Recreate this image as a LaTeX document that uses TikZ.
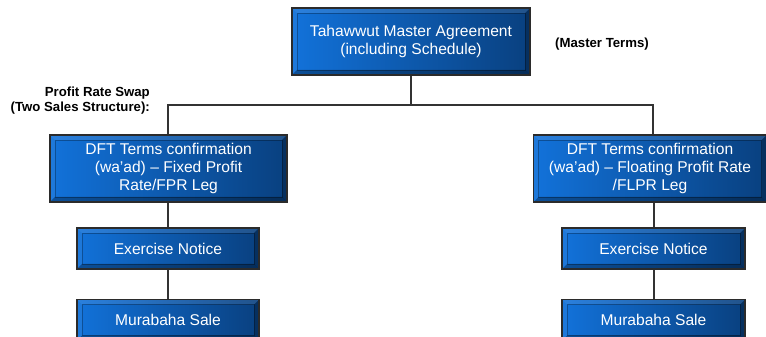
\documentclass[tikz,border=0pt]{standalone}
\usepackage{fontspec}
\setmainfont{Liberation Sans}
\usepackage{xcolor}
\usepackage{tikz}
\definecolor{faceL}{HTML}{1272DA}
\definecolor{faceM}{HTML}{0F60C2}
\definecolor{faceR}{HTML}{09407F}
\definecolor{edge}{HTML}{2B2B2B}
\definecolor{wire}{HTML}{333333}
\tikzset{
  box/.style={draw=edge, line width=1.6pt, left color=faceL, middle color=faceM, right color=faceR,
    text=white, align=center, inner sep=2pt,
    font=\fontsize{15.6}{18}\selectfont,
    path picture={
      \fill[black, opacity=.3] (path picture bounding box.south west) -- (path picture bounding box.south east)
        -- ([shift={(-5pt,5pt)}]path picture bounding box.south east) -- ([shift={(5pt,5pt)}]path picture bounding box.south west) -- cycle;
      \fill[black, opacity=.25] (path picture bounding box.south east) -- (path picture bounding box.north east)
        -- ([shift={(-5pt,-5pt)}]path picture bounding box.north east) -- ([shift={(-5pt,5pt)}]path picture bounding box.south east) -- cycle;
      \fill[white, opacity=.1] (path picture bounding box.north west) -- (path picture bounding box.north east)
        -- ([shift={(-5pt,-5pt)}]path picture bounding box.north east) -- ([shift={(5pt,-5pt)}]path picture bounding box.north west) -- cycle;
      \fill[white, opacity=.05] (path picture bounding box.south west) -- (path picture bounding box.north west)
        -- ([shift={(5pt,-5pt)}]path picture bounding box.north west) -- ([shift={(5pt,5pt)}]path picture bounding box.south west) -- cycle;
      \draw[black, opacity=.3, line width=.5pt] ([shift={(5pt,5pt)}]path picture bounding box.south west)
        rectangle ([shift={(-5pt,-5pt)}]path picture bounding box.north east);
    }},
  note/.style={text=black, font=\bfseries\fontsize{13.2}{15}\selectfont, inner sep=0pt},
  link/.style={draw=wire, line width=2pt}
}
\begin{document}
\begin{tikzpicture}[x=1pt, y=1pt]
\useasboundingbox (0,0) rectangle (766,337);
\fill[white] (0,0) rectangle (766,337);

% top level
\node[box, minimum width=238pt, minimum height=67pt] (master) at (411,295.5)
  {Tahawwut Master Agreement\\(including Schedule)};
\node[note] (masterLab) at (602,293) {(Master Terms)};
\node[note, align=right, anchor=east] (swapLab) at (150,236.5)
  {Profit Rate Swap\\(Two Sales Structure):};

% two legs
\node[box, minimum width=237pt, minimum height=67pt] (dftL) at (168.5,168.5)
  {DFT Terms confirmation\\(wa'ad) -- Fixed Profit\\Rate/FPR Leg};
\node[box, minimum width=233pt, minimum height=67pt] (dftR) at (650,168.5)
  {DFT Terms confirmation\\(wa'ad) -- Floating Profit Rate\\/FLPR Leg};
\node[box, minimum width=182pt, minimum height=41pt] (exL) at (168,88.5) {Exercise Notice};
\node[box, minimum width=183pt, minimum height=41pt] (exR) at (653.5,88.5) {Exercise Notice};
\node[box, minimum width=182pt, minimum height=41pt] (muL) at (168,17) {Murabaha Sale};
\node[box, minimum width=183pt, minimum height=41pt] (muR) at (653.5,17) {Murabaha Sale};

% connectors
\coordinate (busL) at (168,232);
\coordinate (busR) at (653,232);
\draw[link] (master.south) -- (master.south |- busL);
\draw[link] (dftL.north -| busL) -- (busL) -- (busR) -- (busR |- dftR.north);
\draw[link] (dftL.south -| exL) -- (exL.north);
\draw[link] (exL.south) -- (muL.north);
\draw[link] (dftR.south -| exR) -- (exR.north);
\draw[link] (exR.south) -- (muR.north);
\end{tikzpicture}
\end{document}
